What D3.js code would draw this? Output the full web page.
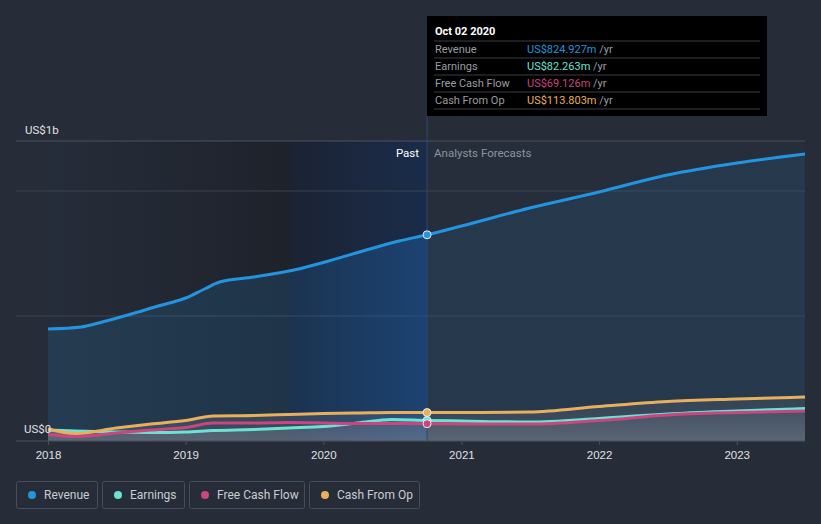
<!DOCTYPE html>
<html>
<head>
<meta charset="utf-8">
<script src="https://cdn.jsdelivr.net/npm/d3@7"></script>
<style>
  body { margin: 0; background: #262c38; }
  svg { display: block; font-family: Roboto, "Noto Sans", sans-serif; }
</style>
</head>
<body>
<svg id="chart" width="821" height="524"></svg>
<script>
// ----------------------------------------------------
// Data (values in US$ millions)
// ----------------------------------------------------
const revenueDates = ['2018-01-01','2018-03-30','2018-05-15','2018-08-01','2018-10-20','2019-01-01','2019-02-20','2019-04-01','2019-07-01','2019-10-15','2020-01-15','2020-04-15','2020-07-20','2020-10-02',
  '2021-01-01','2021-07-01','2022-01-01','2022-07-01','2023-01-01','2023-07-01'];
const revenue = [448, 456, 472, 504, 540, 572, 608, 636, 656, 684, 720, 760, 800, 824.927,
  860, 932, 996, 1064, 1112, 1148];

const otherDates = ['2018-01-01','2018-03-15','2018-07-01','2018-10-01','2019-01-01','2019-03-15','2019-07-01','2019-10-01','2020-01-01','2020-04-01','2020-07-01','2020-10-02',
  '2021-01-01','2021-07-01','2022-01-01','2022-07-01','2023-01-01','2023-07-01'];
const earnings = [44, 40, 36, 34, 36, 42, 46, 52, 58, 72, 86, 82.263,
  80, 76, 90, 108, 120, 130];
const freeCashFlow = [26, 18, 32, 44, 54, 72, 72, 74, 72, 70, 70, 69.126,
  68, 68, 82, 104, 114, 120];
const cashFromOp = [48, 30, 52, 68, 82, 100, 102, 106, 110, 112, 114, 113.803,
  114, 116, 138, 158, 168, 176];

const yearTicks = ['2018','2019','2020','2021','2022','2023'];
const legendNames = ['Revenue','Earnings','Free Cash Flow','Cash From Op'];
const legendColors = ['#2394df','#6ce2d3','#c9467f','#e8af5c'];
const tooltipValues = ['US$824.927m','US$82.263m','US$69.126m','US$113.803m'];

// ----------------------------------------------------
const parse = d3.timeParse('%Y-%m-%d');
const svg = d3.select('#chart');

const x = d3.scaleTime()
  .domain([parse('2018-01-01'), parse('2023-07-01')])
  .range([48, 805]);
const y = d3.scaleLinear().domain([0, 1200]).range([441, 141]);
const nowDate = parse('2020-10-02');
const xNow = x(nowDate);
const xBand = x(parse('2019-10-02'));
const [x0, x1] = x.range();

const defs = svg.append('defs');

function hGrad(id, stops) {
  const g = defs.append('linearGradient').attr('id', id)
    .attr('gradientUnits','userSpaceOnUse')
    .attr('x1', x0).attr('x2', x1).attr('y1', 0).attr('y2', 0);
  stops.forEach(s => g.append('stop')
    .attr('offset', ((s[0] - x0) / (x1 - x0) * 100) + '%')
    .attr('stop-color', s[1]).attr('stop-opacity', s[2] === undefined ? 1 : s[2]));
}

// background of the past part, darker towards the band
hGrad('pastGrad', [[x0,'#262d3a'],[xBand,'#1e222b']]);
hGrad('bandGrad', [[xBand,'#1b2333'],[xNow,'#1a2c4a']]);
// fill under revenue
hGrad('revGrad', [[x0,'#2394df',0.14],[xBand,'#2394df',0.16],[xBand,'#1f78d0',0.18],[xNow,'#1f78d0',0.3],
  [xNow,'#2394df',0.1],[x1,'#2394df',0.1]]);

const greyGrad = defs.append('linearGradient').attr('id','greyGrad')
  .attr('x1','0').attr('x2','0').attr('y1','0').attr('y2','1');
greyGrad.append('stop').attr('offset','0%').attr('stop-color','#8a8f9a').attr('stop-opacity',0.25);
greyGrad.append('stop').attr('offset','100%').attr('stop-color','#9a9ca6').attr('stop-opacity',0.45);

// backgrounds
svg.append('rect').attr('x', x0).attr('y', y(1200))
  .attr('width', xBand - x0).attr('height', y(0) - y(1200))
  .attr('fill','url(#pastGrad)');
svg.append('rect').attr('x', xBand).attr('y', y(1200))
  .attr('width', xNow - xBand).attr('height', y(0) - y(1200))
  .attr('fill','url(#bandGrad)');
svg.append('rect').attr('x', xNow).attr('y', y(1200))
  .attr('width', x1 - xNow).attr('height', y(0) - y(1200))
  .attr('fill','#262e3c');

// gridlines
svg.append('g').selectAll('line')
  .data([500, 1000, 1200])
  .enter().append('line')
    .attr('x1', 16).attr('x2', x1)
    .attr('y1', d => y(d)).attr('y2', d => y(d))
    .attr('stroke', d => d === 1200 ? '#4a505d' : '#3a4250')
    .attr('stroke-width', 1);

// series
const revData = revenueDates.map((d,i) => ({date: parse(d), v: revenue[i]}));
const mk = arr => otherDates.map((d,i) => ({date: parse(d), v: arr[i]}));
const series = [mk(earnings), mk(freeCashFlow), mk(cashFromOp)];

const area = d3.area().curve(d3.curveMonotoneX)
  .x(d => x(d.date)).y0(y(0)).y1(d => y(d.v));
const line = d3.line().curve(d3.curveMonotoneX)
  .x(d => x(d.date)).y(d => y(d.v));

svg.append('path').datum(revData)
  .attr('d', area).attr('fill','url(#revGrad)');

// grey area under the small series
svg.append('path').datum(series[2])
  .attr('d', area).attr('fill','url(#greyGrad)').attr('opacity',0.55);
svg.append('path').datum(series[0])
  .attr('d', area).attr('fill','url(#greyGrad)').attr('opacity',0.6);

// lines
svg.append('path').datum(revData)
  .attr('d', line).attr('fill','none')
  .attr('stroke', legendColors[0]).attr('stroke-width', 3);

[[0,1],[1,2],[2,3]].forEach(([si, ci]) => {
  svg.append('path').datum(series[si])
    .attr('d', line).attr('fill','none')
    .attr('stroke', legendColors[ci]).attr('stroke-width', 3);
});

// x axis
svg.append('line').attr('x1', 16).attr('x2', x1)
  .attr('y1', y(0)).attr('y2', y(0)).attr('stroke','#4a505d');
const xAxis = svg.append('g').attr('transform', `translate(0,${y(0)})`)
  .call(d3.axisBottom(x)
    .tickValues(yearTicks.map(t => parse(t + '-01-01')))
    .tickFormat(d3.timeFormat('%Y'))
    .tickSize(4).tickPadding(6));
xAxis.select('.domain').remove();
xAxis.selectAll('line').attr('stroke','#4a505d');
xAxis.selectAll('text').attr('fill','#e0e2e6').attr('font-size', 11.5);

// y labels
svg.append('text').attr('x', 25).attr('y', 134)
  .attr('fill','#e0e2e6').attr('font-size', 11.5).text('US$1b');
svg.append('text').attr('x', 24).attr('y', 433)
  .attr('fill','#e0e2e6').attr('font-size', 11.5).text('US$0');

// now line
svg.append('line').attr('x1', xNow).attr('x2', xNow)
  .attr('y1', 116).attr('y2', y(0))
  .attr('stroke','#2d4a70').attr('stroke-width', 1);

svg.append('text').attr('x', xNow - 8).attr('y', 157)
  .attr('text-anchor','end').attr('fill','#ffffff').attr('font-size', 11.5).text('Past');
svg.append('text').attr('x', xNow + 7).attr('y', 157)
  .attr('fill','#8e939d').attr('font-size', 11.5).text('Analysts Forecasts');

// markers at now
const nowVals = [824.927, 82.263, 69.126, 113.803];
[3, 1, 2, 0].forEach(i => {
  svg.append('circle').attr('cx', xNow).attr('cy', y(nowVals[i]))
    .attr('r', 4).attr('fill', legendColors[i])
    .attr('stroke', '#e8eef5').attr('stroke-width', 1);
});

// tooltip
const tip = svg.append('g').attr('transform','translate(427,16)');
tip.append('rect').attr('width', 340).attr('height', 100).attr('fill','#000000');
tip.append('text').attr('x', 8).attr('y', 19)
  .attr('fill','#ffffff').attr('font-size', 11).attr('font-weight','bold').text('Oct 02 2020');
legendNames.forEach((n, i) => {
  const ry = 25 + i * 17;
  tip.append('line').attr('x1', 7).attr('x2', 333)
    .attr('y1', ry).attr('y2', ry).attr('stroke','#3a3d44');
  tip.append('text').attr('x', 8).attr('y', ry + 12)
    .attr('fill','#9a9da4').attr('font-size', 11).text(n);
  const t = tip.append('text').attr('x', 100).attr('y', ry + 12).attr('font-size', 11);
  t.append('tspan').attr('fill', legendColors[i]).text(tooltipValues[i]);
  t.append('tspan').attr('fill','#9a9da4').text(' /yr');
});
tip.append('line').attr('x1', 7).attr('x2', 333)
  .attr('y1', 93).attr('y2', 93).attr('stroke','#3a3d44');

// legend
const legendX = [16, 102, 189, 309];
const legendW = [81, 82, 115, 110];
const leg = svg.append('g');
legendNames.forEach((n, i) => {
  const g = leg.append('g').attr('transform', `translate(${legendX[i]},481)`);
  g.append('rect').attr('x', 0.5).attr('y', 0.5)
    .attr('width', legendW[i]).attr('height', 27).attr('rx', 2)
    .attr('fill','none').attr('stroke','#474e5b');
  g.append('circle').attr('cx', 16).attr('cy', 14).attr('r', 4).attr('fill', legendColors[i]);
  g.append('text').attr('x', 28).attr('y', 18)
    .attr('fill','#c9ccd2').attr('font-size', 12).text(n);
});
</script>
</body>
</html>
